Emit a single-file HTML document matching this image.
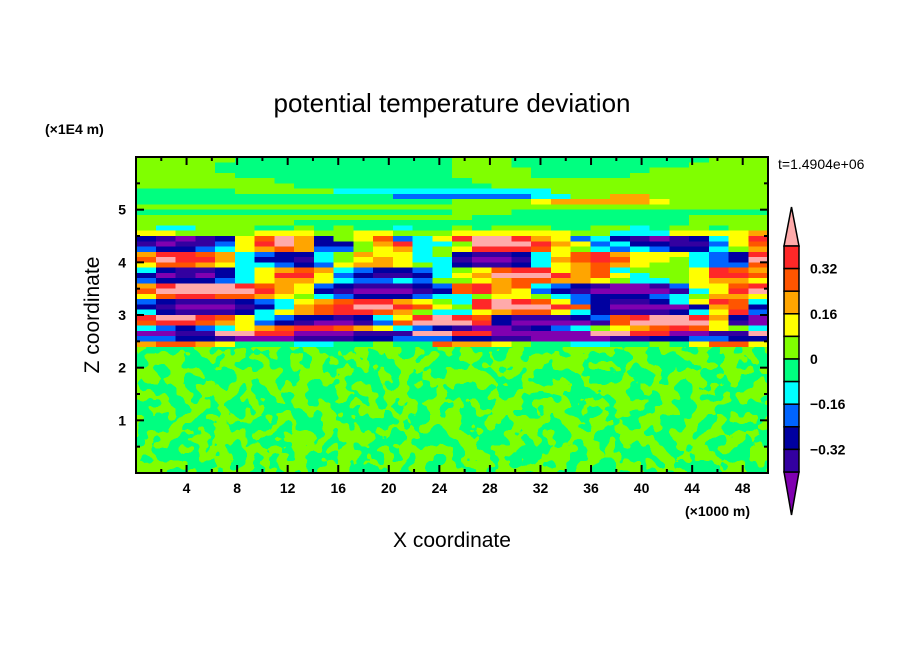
<!DOCTYPE html>
<html><head><meta charset="utf-8"><style>
html,body{margin:0;padding:0;background:#fff;}
svg{display:block;font-family:"Liberation Sans","DejaVu Sans",sans-serif;}
</style></head><body>
<svg id="chart" width="904" height="654" viewBox="0 0 904 654">
<defs>
<filter id="speckle" x="0" y="0" width="100%" height="100%" color-interpolation-filters="sRGB">
<feTurbulence type="fractalNoise" baseFrequency="0.065" numOctaves="2" seed="7" result="n"/>
<feColorMatrix in="n" type="matrix" values="0 0 0 0 0.5  0 0 0 0 1  0 0 0 0 0  8 0 0 0 -3.5" result="m"/>
<feComponentTransfer in="m" result="t"><feFuncA type="discrete" tableValues="0 1"/></feComponentTransfer>
<feMerge><feMergeNode in="SourceGraphic"/><feMergeNode in="t"/></feMerge>
</filter>
</defs>
<text x="452" y="112" text-anchor="middle" font-size="26">potential temperature deviation</text>
<text x="45" y="134" font-size="14" font-weight="bold">(×1E4 m)</text>
<text x="778" y="169" font-size="14">t=1.4904e+06</text>
<text x="685" y="516" font-size="14" font-weight="bold">(×1000 m)</text>
<text x="452" y="547" text-anchor="middle" font-size="21">X coordinate</text>
<text transform="translate(99,315) rotate(-90)" text-anchor="middle" font-size="21">Z coordinate</text>
<g id="field" shape-rendering="crispEdges"></g>
<g id="axes"></g>
<g id="cbar"></g>
</svg>
<script>
const levelColors = ["#8000B0","#3300A0","#0000A0","#0064FF","#00FFFF","#00FF80","#80FF00","#FFFF00","#FFA500","#FF5500","#FF2828","#FFAAAA"];
const levelCodes = "abcdefghijkl";
const fieldRows = [
"gggggfffffffffffgggffffffffffggg",
"ggggffffffffffffgggfffffffffgggg",
"ggggffffffffffffggggffffffgggggg",
"gggggfffffffffffggggfffffggggggg",
"gggggggffffffffffggggggggggggggg",
"ggggggggffffffffffgggggggggggggg",
"fffffgggggeeeeeeeeeeeggggggggggg",
"fffffffffffffdddddddeeggiigggggg",
"ffffffffffffffffgggghiiiiihggggg",
"gggggggggggggggggggggggggggggggg",
"ffffffffffffffffgggfffffffffffff",
"gggggggggggggggggfffffffffffgggg",
"ggggggggffffffffffffffffffffgggg",
"geegggffgfgffeffgfgggffggefggfgg",
"hhgggghhhgghhggghhhhhhggeeehhhhi",
"cbabchjlicghjdehkllkihdecbabcehk",
"babbdhkliccgikeeglllkihdeccbbdhj",
"dccdehijiddghieghkkkjhgededccegi",
"ikkjiedccegihhegcbbcehjkihhhedck",
"jlkkieccbeghiheebaabeijkjhhgedcl",
"hjjiheedcdhiihgecbbcehijihggeddj",
"ecbbcehijiedccdeghjkkhijeggghkji",
"cabacehkkhdcbbcehilllkijhegghkkj",
"dcccdehiiheddedgghijjiihgeeghiih",
"iklllkjihdcbbbcdjkijedcbaabdhhjk",
"jlllllkihcbaaabcjkihdcbaaaabehkl",
"hjkkjjihgedcccdeeghhgedcccdegiih",
"dcbbbcdehijkkihgeklkjhdcbbcehkje",
"cbaaabceijkllkjhgklllkjcaaaacijc",
"ecbbbcehijkkjigeehijjhecbbbcehkd",
"kllkjhedccbcehklkjcbbbcdjkllkica",
"jkkjihdcbaabdjlllkcaaaabjllllhba",
"edcdehijkkjihedcbaabcdeghijkjhge",
"aabbllkkaaabbbllkkaaaaallkkaabbl",
"ddccbaaabbbccdddccbbaaaabbccddcc",
"ijjihfffeeffgffjiihgffeeffgfhjjh"
];
const xTicks = [4,8,12,16,20,24,28,32,36,40,44,48];
const yTicks = [1,2,3,4,5];
const cbarLabels = ["0.32","0.16","0","−0.16","−0.32"];
const cbarBoxLevels = [10,9,8,7,6,5,4,3,2,1];

const NS="http://www.w3.org/2000/svg";
const X0=136,X1=768,Y0=473,Y1=157;
const xs=v=>X0+(v/50)*(X1-X0);
const ys=v=>Y0-(v/6)*(Y0-Y1);
function mk(t,a,p){const e=document.createElementNS(NS,t);for(const k in a)e.setAttribute(k,a[k]);p.appendChild(e);return e;}
const field=document.getElementById('field');
const bg=mk('rect',{x:X0,y:ys(2.4),width:X1-X0,height:Y0-ys(2.4),fill:"#00FF80",filter:"url(#speckle)"},field);


const nc=fieldRows[0].length, dz=0.1;
fieldRows.forEach((row,r)=>{
  const zt=6-r*dz, zb=zt-dz;
  for(let c=0;c<nc;c++){
    const lv=levelCodes.indexOf(row[c]);
    const xa=xs(c*50/nc), xb=xs((c+1)*50/nc);
    const el=mk('rect',{x:xa,y:ys(zt),width:xb-xa+0.5,height:ys(zb)-ys(zt)+0.5,fill:levelColors[lv]},field);
    
    
  }
});
const axes=document.getElementById('axes');
const frame=mk('rect',{x:X0,y:Y1,width:X1-X0,height:Y0-Y1,fill:"none",stroke:"#000","stroke-width":2},axes);


for(let v=2;v<50;v+=2){
  const major=v%4===0, L=major?8:4, x=xs(v);
  mk('line',{x1:x,y1:Y0,x2:x,y2:Y0-L,stroke:"#000","stroke-width":2},axes);
  mk('line',{x1:x,y1:Y1,x2:x,y2:Y1+L,stroke:"#000","stroke-width":2},axes);
}
for(let v=0.5;v<6;v+=0.5){
  const major=Math.abs(v-Math.round(v))<1e-6, L=major?8:4, y=ys(v);
  mk('line',{x1:X0,y1:y,x2:X0+L,y2:y,stroke:"#000","stroke-width":2},axes);
  mk('line',{x1:X1,y1:y,x2:X1-L,y2:y,stroke:"#000","stroke-width":2},axes);
}
xTicks.forEach(v=>{const t=mk('text',{x:xs(v),y:Y0+20,"text-anchor":"middle","font-size":14,"font-weight":"bold"},axes);t.textContent=v;

});
yTicks.forEach(v=>{const t=mk('text',{x:126,y:ys(v)+5,"text-anchor":"end","font-size":14,"font-weight":"bold"},axes);t.textContent=v;

});
const cb=document.getElementById('cbar');
const CX0=784,CX1=799,CT=246,CB=472,bh=(CB-CT)/cbarBoxLevels.length;
const up=mk('polygon',{points:`${CX0},${CT} ${(CX0+CX1)/2},207 ${CX1},${CT}`,fill:levelColors[11],stroke:"#000","stroke-width":1.5},cb);


const dn=mk('polygon',{points:`${CX0},${CB} ${(CX0+CX1)/2},515 ${CX1},${CB}`,fill:levelColors[0],stroke:"#000","stroke-width":1.5},cb);


cbarBoxLevels.forEach((lv,i)=>{const r=mk('rect',{x:CX0,y:CT+i*bh,width:CX1-CX0,height:bh,fill:levelColors[lv],stroke:"#000","stroke-width":1.5},cb);

});
cbarLabels.forEach((s,i)=>{const t=mk('text',{x:810,y:CT+(2*i+1)*bh+5,"font-size":14,"font-weight":"bold"},cb);t.textContent=s;

});
</script>
</body></html>
